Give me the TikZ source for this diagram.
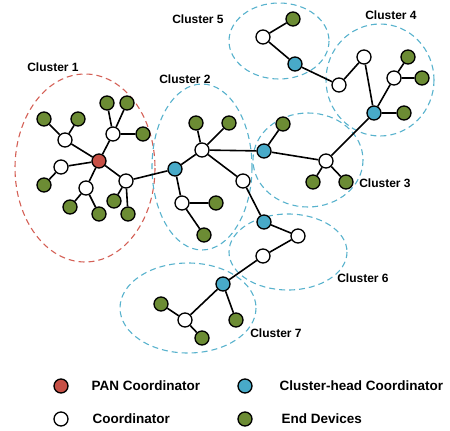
\documentclass[tikz,border=0pt]{standalone}
\usepackage{fontspec}
\setmainfont{Liberation Sans}
\usetikzlibrary{shapes,positioning,calc}
\definecolor{pancol}{RGB}{198,80,70}
\definecolor{headcol}{RGB}{72,170,200}
\definecolor{endcol}{RGB}{108,140,52}
\definecolor{ringcol}{RGB}{88,178,205}
\definecolor{panring}{RGB}{212,96,86}
\tikzstyle{dev} = [circle, draw=black, line width=1.3pt, minimum size=14pt, inner sep=0pt]
\tikzstyle{pan} = [dev, fill=pancol]
\tikzstyle{head} = [dev, fill=headcol]
\tikzstyle{crd} = [dev, fill=white]
\tikzstyle{enddev} = [dev, fill=endcol]
\tikzstyle{link} = [line width=1.6pt]
\tikzstyle{ring} = [dash pattern=on 6pt off 4pt, line width=1.1pt, draw=ringcol]
\tikzstyle{lbl} = [font=\bfseries\fontsize{12}{14}\selectfont]
\tikzstyle{leg} = [font=\bfseries\fontsize{13.5}{16}\selectfont, anchor=west]

\begin{document}
\begin{tikzpicture}[x=1pt,y=-1pt]
						\useasboundingbox (0,0) rectangle (450,431);
						% clusters
						\draw[ring, draw=panring] (85,168) ellipse (70 and 94);
						\draw[ring] (202,167) ellipse (50 and 83);
						\draw[ring] (308,160) ellipse (55 and 47);
						\draw[ring] (380,80) ellipse (54 and 56);
						\draw[ring] (279,41) ellipse (50 and 38);
						\draw[ring] (288,252) ellipse (59 and 38);
						\draw[ring] (188,308) ellipse (68 and 45);
						\node (l1) at (53,67) [lbl] {Cluster 1};
						\node (l2) at (185,79) [lbl] {Cluster 2};
						\node (l3) at (385,183) [lbl] {Cluster 3};
						\node (l4) at (391,15) [lbl] {Cluster 4};
						\node (l5) at (198,19) [lbl] {Cluster 5};
						\node (l6) at (363,278) [lbl] {Cluster 6};
						\node (l7) at (276,333) [lbl] {Cluster 7};
						% cluster 1
						\node (pan) at (99,161) [pan] {};
						\node (c1a) at (65,140) [crd] {};
						\node (e1a) at (44,119) [enddev] {};
						\node (e1b) at (78,119) [enddev] {};
						\node (c1b) at (113,134) [crd] {};
						\node (e1c) at (107,103) [enddev] {};
						\node (e1d) at (127,103) [enddev] {};
						\node (e1e) at (143,134) [enddev] {};
						\node (c1c) at (61,167) [crd] {};
						\node (e1f) at (44,185) [enddev] {};
						\node (c1d) at (86,188) [crd] {};
						\node (e1g) at (70,207) [enddev] {};
						\node (e1h) at (99,214) [enddev] {};
						\node (c1e) at (126,181) [crd] {};
						\node (e1i) at (114,201) [enddev] {};
						\node (e1j) at (128,214) [enddev] {};
						% cluster 2
						\node (h2) at (175,169) [head] {};
						\node (c2a) at (202,150) [crd] {};
						\node (e2a) at (196,123) [enddev] {};
						\node (e2b) at (229,123) [enddev] {};
						\node (c2b) at (243,181) [crd] {};
						\node (c2c) at (182,203) [crd] {};
						\node (e2c) at (216,203) [enddev] {};
						\node (e2d) at (204,235) [enddev] {};
						% cluster 3
						\node (h3) at (264,151) [head] {};
						\node (e3a) at (283,124) [enddev] {};
						\node (c3a) at (326,161) [crd] {};
						\node (e3b) at (313,182) [enddev] {};
						\node (e3c) at (346,182) [enddev] {};
						% cluster 4
						\node (h4) at (374,113) [head] {};
						\node (e4a) at (404,113) [enddev] {};
						\node (c4a) at (394,78) [crd] {};
						\node (e4b) at (408,57) [enddev] {};
						\node (e4c) at (422,78) [enddev] {};
						\node (c4b) at (364,57) [crd] {};
						\node (c4c) at (339,85) [crd] {};
						% cluster 5
						\node (h5) at (295,64) [head] {};
						\node (c5a) at (263,37) [crd] {};
						\node (e5a) at (293,19) [enddev] {};
						% cluster 6
						\node (h6) at (264,222) [head] {};
						\node (c6a) at (298,236) [crd] {};
						\node (c6b) at (263,256) [crd] {};
						% cluster 7
						\node (h7) at (223,284) [head] {};
						\node (c7a) at (185,320) [crd] {};
						\node (e7a) at (161,304) [enddev] {};
						\node (e7b) at (202,338) [enddev] {};
						\node (e7c) at (236,320) [enddev] {};
						% links
						\draw[link] (pan) -- (c1a) (c1a) -- (e1a) (c1a) -- (e1b)
							  (pan) -- (c1b) (c1b) -- (e1c) (c1b) -- (e1d) (c1b) -- (e1e)
							  (pan) -- (c1c) (c1c) -- (e1f)
							  (pan) -- (c1d) (c1d) -- (e1g) (c1d) -- (e1h)
							  (pan) -- (c1e) (c1e) -- (e1i) (c1e) -- (e1j) (c1e) -- (h2);
						\draw[link] (h2) -- (c2a) (c2a) -- (e2a) (c2a) -- (e2b) (c2a) -- (h3)
							  (c2a) -- (c2b) (c2b) -- (h6)
							  (h2) -- (c2c) (c2c) -- (e2c) (c2c) -- (e2d);
						\draw[link] (h3) -- (e3a) (h3) -- (c3a) (c3a) -- (e3b) (c3a) -- (e3c) (c3a) -- (h4);
						\draw[link] (h4) -- (e4a) (h4) -- (c4a) (c4a) -- (e4b) (c4a) -- (e4c)
							  (h4) -- (c4b) (c4b) -- (c4c) (c4c) -- (h5) (h5) -- (c5a) (c5a) -- (e5a);
						\draw[link] (h6) -- (c6a) (c6a) -- (c6b) (c6b) -- (h7)
							  (h7) -- (c7a) (c7a) -- (e7a) (c7a) -- (e7b) (h7) -- (e7c);
						% legend
						\node (kpan) at (61,386) [pan] {};
						\node (khead) at (245,386) [head] {};
						\node (kcrd) at (61,419) [crd] {};
						\node (kend) at (245,419) [enddev] {};
						\node at (88,386) [leg] {PAN Coordinator};
						\node at (276,386) [leg] {Cluster-head Coordinator};
						\node at (89,419) [leg] {Coordinator};
						\node at (278,419) [leg] {End Devices};
					\end{tikzpicture}
\end{document}
